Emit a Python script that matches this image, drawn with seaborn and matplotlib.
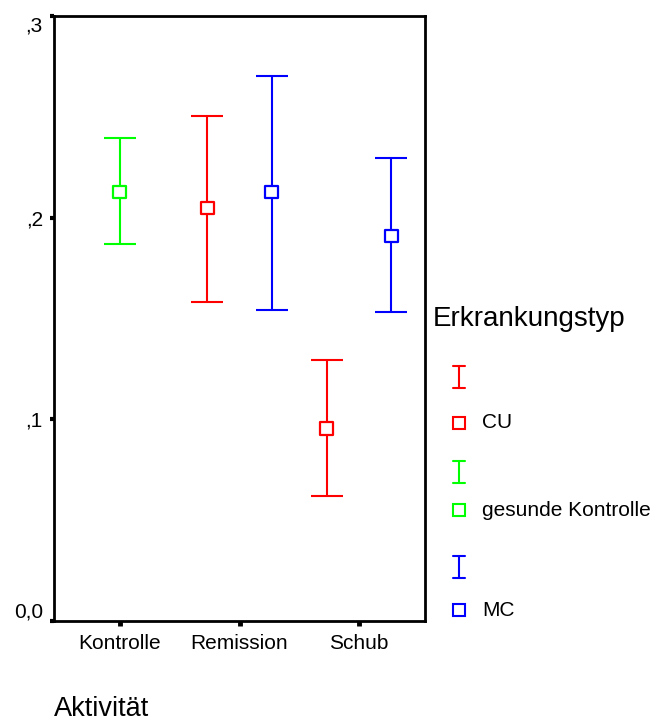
import matplotlib
matplotlib.use("Agg")
import matplotlib.pyplot as plt
from matplotlib.lines import Line2D
import seaborn as sns
import pandas as pd

# Mittelwerte mit Fehlerbalken (95%-KI)
aktivitaet = ["Kontrolle", "Remission", "Remission", "Schub", "Schub"]
erkrankung = ["gesunde Kontrolle", "CU", "MC", "CU", "MC"]
mittelwert = [0.2127, 0.2048, 0.2127, 0.0955, 0.1909]
unten = [0.1870, 0.1582, 0.1541, 0.0618, 0.1531]
oben = [0.2395, 0.2506, 0.2702, 0.1293, 0.2296]

kategorien = ["Kontrolle", "Remission", "Schub"]
gruppen = ["CU", "gesunde Kontrolle", "MC"]
farben = ["#ff0000", "#00ff00", "#0000ff"]
yticks = [0.0, 0.1, 0.2, 0.3]
ytick_labels = ["0,0", ",1", ",2", ",3"]

sns.set_style("white")
plt.rcParams['font.family'] = ['Liberation Sans', 'DejaVu Sans']
plt.rcParams['text.color'] = 'black'
plt.rcParams['xtick.color'] = 'black'
plt.rcParams['ytick.color'] = 'black'
plt.rcParams['axes.labelcolor'] = 'black'

df = pd.DataFrame({'Aktivität': aktivitaet, 'Erkrankungstyp': erkrankung,
                   'Mittel': mittelwert, 'unten': unten, 'oben': oben})
# dodge like SPSS: one slot per hue level
df['pos'] = [kategorien.index(a) + (gruppen.index(e) - 1) * 0.27
             for a, e in zip(df['Aktivität'], df['Erkrankungstyp'])]
palette = dict(zip(gruppen, farben))

fig = plt.figure(figsize=(6.58, 7.22), dpi=100)
ax = fig.add_axes([54 / 658, 101 / 722, 371 / 658, 605 / 722])

for _, r in df.iterrows():
    ax.errorbar(r['pos'], r['Mittel'],
                yerr=[[r['Mittel'] - r['unten']], [r['oben'] - r['Mittel']]],
                fmt='none', ecolor=palette[r['Erkrankungstyp']],
                elinewidth=1.5, capsize=11.5, capthick=1.5, zorder=2)

sns.scatterplot(data=df, x='pos', y='Mittel', hue='Erkrankungstyp',
                palette=palette, marker='s', s=85, linewidth=1.6,
                legend=False, ax=ax, zorder=3)
pts = ax.collections[-1]
pts.set_edgecolors(pts.get_facecolors())
pts.set_facecolors('white')

ax.set_xlim(-0.55, 2.55)
ax.set_ylim(0, 0.3)
ax.set_xticks(range(len(kategorien)))
ax.set_xticklabels(kategorien, fontsize=15)
ax.set_yticks(yticks)
ax.set_yticklabels(ytick_labels, fontsize=15)
for lab, v in zip(ax.get_yticklabels(), yticks):
    if v == 0.3:
        lab.set_va('top')
    elif v == 0.0:
        lab.set_va('bottom')
ax.tick_params(axis='y', direction='out', length=3, width=3, pad=5, left=True)
ax.tick_params(axis='x', direction='out', length=3.5, width=3.5, pad=6, bottom=True)
for sp in ax.spines.values():
    sp.set_visible(True)
    sp.set_color('black')
    sp.set_linewidth(2)
ax.set_ylabel('')
ax.set_xlabel('Aktivität', fontsize=19.5)
ax.xaxis.label.set_ha('left')
ax.xaxis.label.set_va('baseline')
ax.xaxis.set_label_coords(0.0, (621 - 716) / 605)

# legend drawn like SPSS: error bar icon and square for each group
def fx(x):
    return x / 658

def fy(y):
    return 1 - y / 722

fig.text(fx(433), fy(326), 'Erkrankungstyp', fontsize=20, va='baseline', ha='left')
leg_y = [377, 423, 472, 510, 567, 610]
for i, (g, c) in enumerate(zip(gruppen, farben)):
    yb = leg_y[2 * i]
    ys = leg_y[2 * i + 1]
    fig.add_artist(Line2D([fx(459), fx(459)], [fy(yb - 11), fy(yb + 11)], color=c, lw=1.5))
    for yc in (yb - 11, yb + 11):
        fig.add_artist(Line2D([fx(453), fx(465)], [fy(yc), fy(yc)], color=c, lw=1.5))
    fig.add_artist(Line2D([fx(459)], [fy(ys)], marker='s', markersize=8.3,
                          markerfacecolor='white', markeredgecolor=c, markeredgewidth=1.5, ls='none'))
    fig.text(fx(482), fy(ys), g, fontsize=15, va='center', ha='left')

fig.savefig('out.png', dpi=100)
